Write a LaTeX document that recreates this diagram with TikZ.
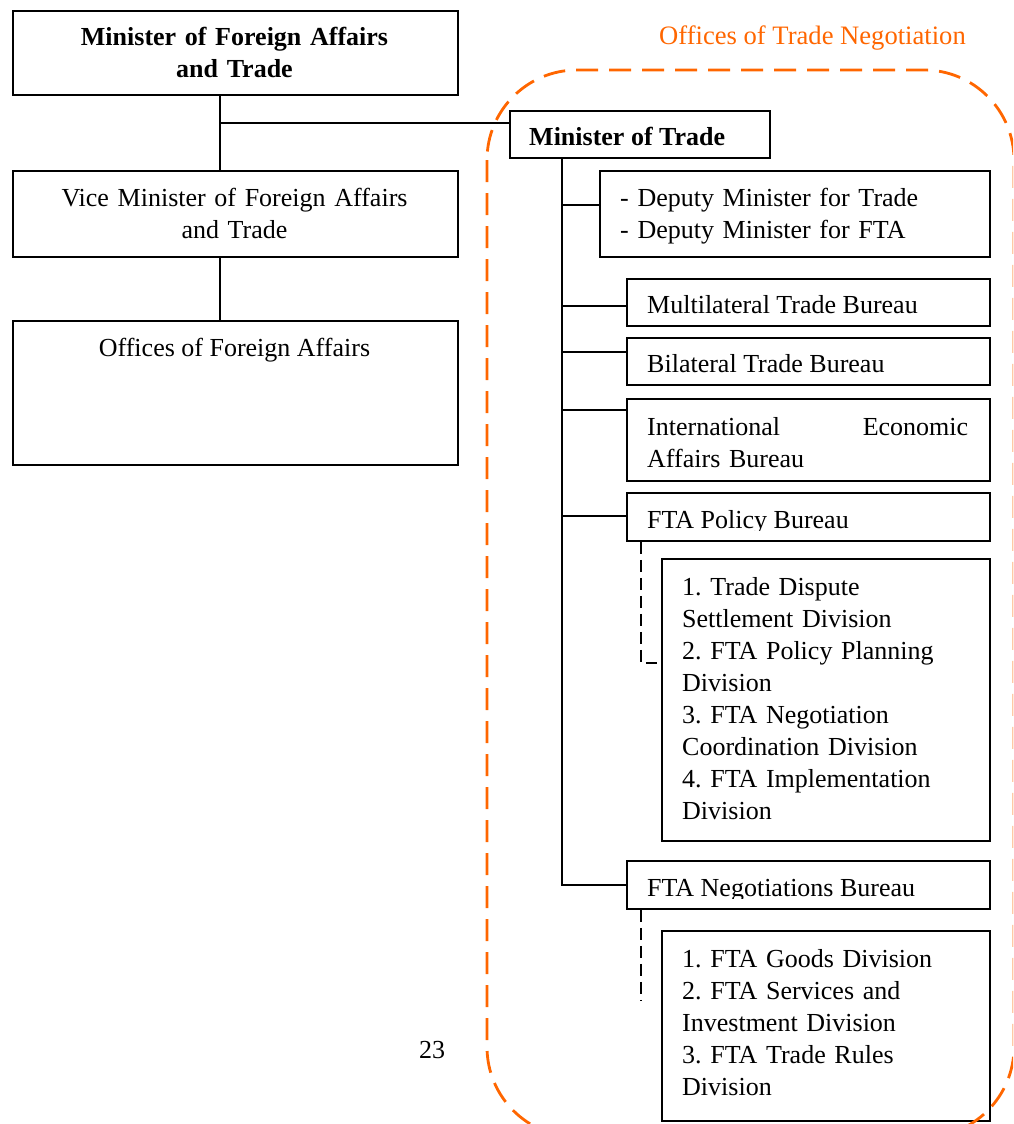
\documentclass[tikz,border=0pt]{standalone}
\usepackage{fontspec}
\setmainfont{Liberation Serif}
\usetikzlibrary{calc}
\definecolor{tradeorange}{RGB}{255,102,0}
\frenchspacing
\begin{document}
\begin{tikzpicture}[x=1pt,y=-1pt,
  bx/.style={draw, line width=1.8pt, inner sep=0pt, anchor=north west},
  txt/.style={inner sep=0pt, font=\fontsize{26pt}{32pt}\selectfont},
  conn/.style={line width=1.6pt},
  dsh/.style={line width=1.5pt, dash pattern=on 12pt off 6pt},
  odash/.style={draw=tradeorange, line width=2.8pt, dash pattern=on 22pt off 11pt, rounded corners=90pt}
]
\useasboundingbox (0,0) rectangle (1013,1124);

% left column boxes
\node[bx, minimum width=445pt, minimum height=84pt] (mfa) at (12,10) {};
\node[bx, minimum width=445pt, minimum height=86pt] (vmfa) at (12,170) {};
\node[bx, minimum width=445pt, minimum height=144pt] (ofa) at (12,320) {};

% right column boxes
\node[bx, minimum width=260pt, minimum height=47pt] (mot) at (509,110) {};
\node[bx, minimum width=390pt, minimum height=86pt] (dep) at (599,170) {};
\node[bx, minimum width=363pt, minimum height=47pt] (mtb) at (626,278) {};
\node[bx, minimum width=363pt, minimum height=47pt] (btb) at (626,337) {};
\node[bx, minimum width=363pt, minimum height=82pt] (ieab) at (626,398) {};
\node[bx, minimum width=363pt, minimum height=48pt] (ftap) at (626,492) {};
\node[bx, minimum width=328pt, minimum height=282pt] (div1) at (661,558) {};
\node[bx, minimum width=363pt, minimum height=48pt] (ftan) at (626,860) {};
\node[bx, minimum width=328pt, minimum height=190pt] (div2) at (661,930) {};

% texts
\node[txt, font=\fontsize{26pt}{32pt}\selectfont\bfseries, text width=445pt, align=center, anchor=base] (tmfa) at (234.5,46) {Minister of Foreign Affairs\\and Trade};
\node[txt, text width=445pt, align=center, anchor=base] (tvmfa) at (234.5,206) {Vice Minister of Foreign Affairs\\and Trade};
\node[txt, anchor=base] (tofa) at (234.5,356) {Offices of Foreign Affairs};
\node[txt, font=\fontsize{26pt}{32pt}\selectfont\bfseries, anchor=base west] (tmot) at (529,145) {Minister of Trade};
\node[txt, text width=360pt, align=left, anchor=base west] (tdep) at (620,206) {- Deputy Minister for Trade\\- Deputy Minister for FTA};
\node[txt, anchor=base west] (tmtb) at (647,313) {Multilateral Trade Bureau};
\node[txt, anchor=base west] (tbtb) at (647,372) {Bilateral Trade Bureau};
\node[txt, text width=321pt, align=left, anchor=base west] (tieab) at (647,435) {International\hfill Economic\\Affairs Bureau};
\begin{scope}
  \clip (626,492) rectangle (989,530.5);
  \node[txt, anchor=base west] (tftap) at (647,528) {FTA Policy Bureau};
\end{scope}
\node[txt, text width=300pt, align=left, anchor=base west] (tdiv1) at (682,595) {1. Trade Dispute\\Settlement Division\\2. FTA Policy Planning\\Division\\3. FTA Negotiation\\Coordination Division\\4. FTA Implementation\\Division};
\begin{scope}
  \clip (626,860) rectangle (989,898);
  \node[txt, anchor=base west] (tftan) at (647,896) {FTA Negotiations Bureau};
\end{scope}
\node[txt, text width=300pt, align=left, anchor=base west] (tdiv2) at (682,967) {1. FTA Goods Division\\2. FTA Services and\\Investment Division\\3. FTA Trade Rules\\Division};
\node[txt, anchor=base] (pg) at (432,1058) {23};
\node[txt, font=\fontsize{26.6pt}{32pt}\selectfont, text=tradeorange, anchor=base west] (otn) at (659,45) {Offices of Trade Negotiation};

% left connectors
\coordinate (lx) at (220,0);
\draw[conn] (mfa.south west -| lx) -- (vmfa.north west -| lx);
\draw[conn] (vmfa.south west -| lx) -- (ofa.north west -| lx);
\coordinate (j1) at (220,123);
\draw[conn] (j1) -- (j1 -| mot.west);

% trunk and branches
\coordinate (tx) at (562,0);
\draw[conn] (mot.south west -| tx) |- (ftan.west);
\coordinate (b1) at (562,205);
\coordinate (b2) at (562,306);
\coordinate (b3) at (562,352);
\coordinate (b4) at (562,410);
\coordinate (b5) at (562,516);
\draw[conn] (b1) -- (b1 -| dep.west);
\draw[conn] (b2) -- (b2 -| mtb.west);
\draw[conn] (b3) -- (b3 -| btb.west);
\draw[conn] (b4) -- (b4 -| ieab.west);
\draw[conn] (b5) -- (b5 -| ftap.west);

% dashed sub-links
\coordinate (d1) at (641,663);
\draw[dsh] (ftap.south west -| d1) -- (d1) -- ([xshift=-4pt]d1 -| div1.west);
\coordinate (d2) at (641,1000);
\draw[dsh] (ftan.south west -| d2) -- (d2);

% orange dashed region
\begin{scope}
  \clip (0,0) rectangle (1013,1124);
  \draw[odash] (487,70) rectangle (1014,1137);
\end{scope}
\end{tikzpicture}
\end{document}
